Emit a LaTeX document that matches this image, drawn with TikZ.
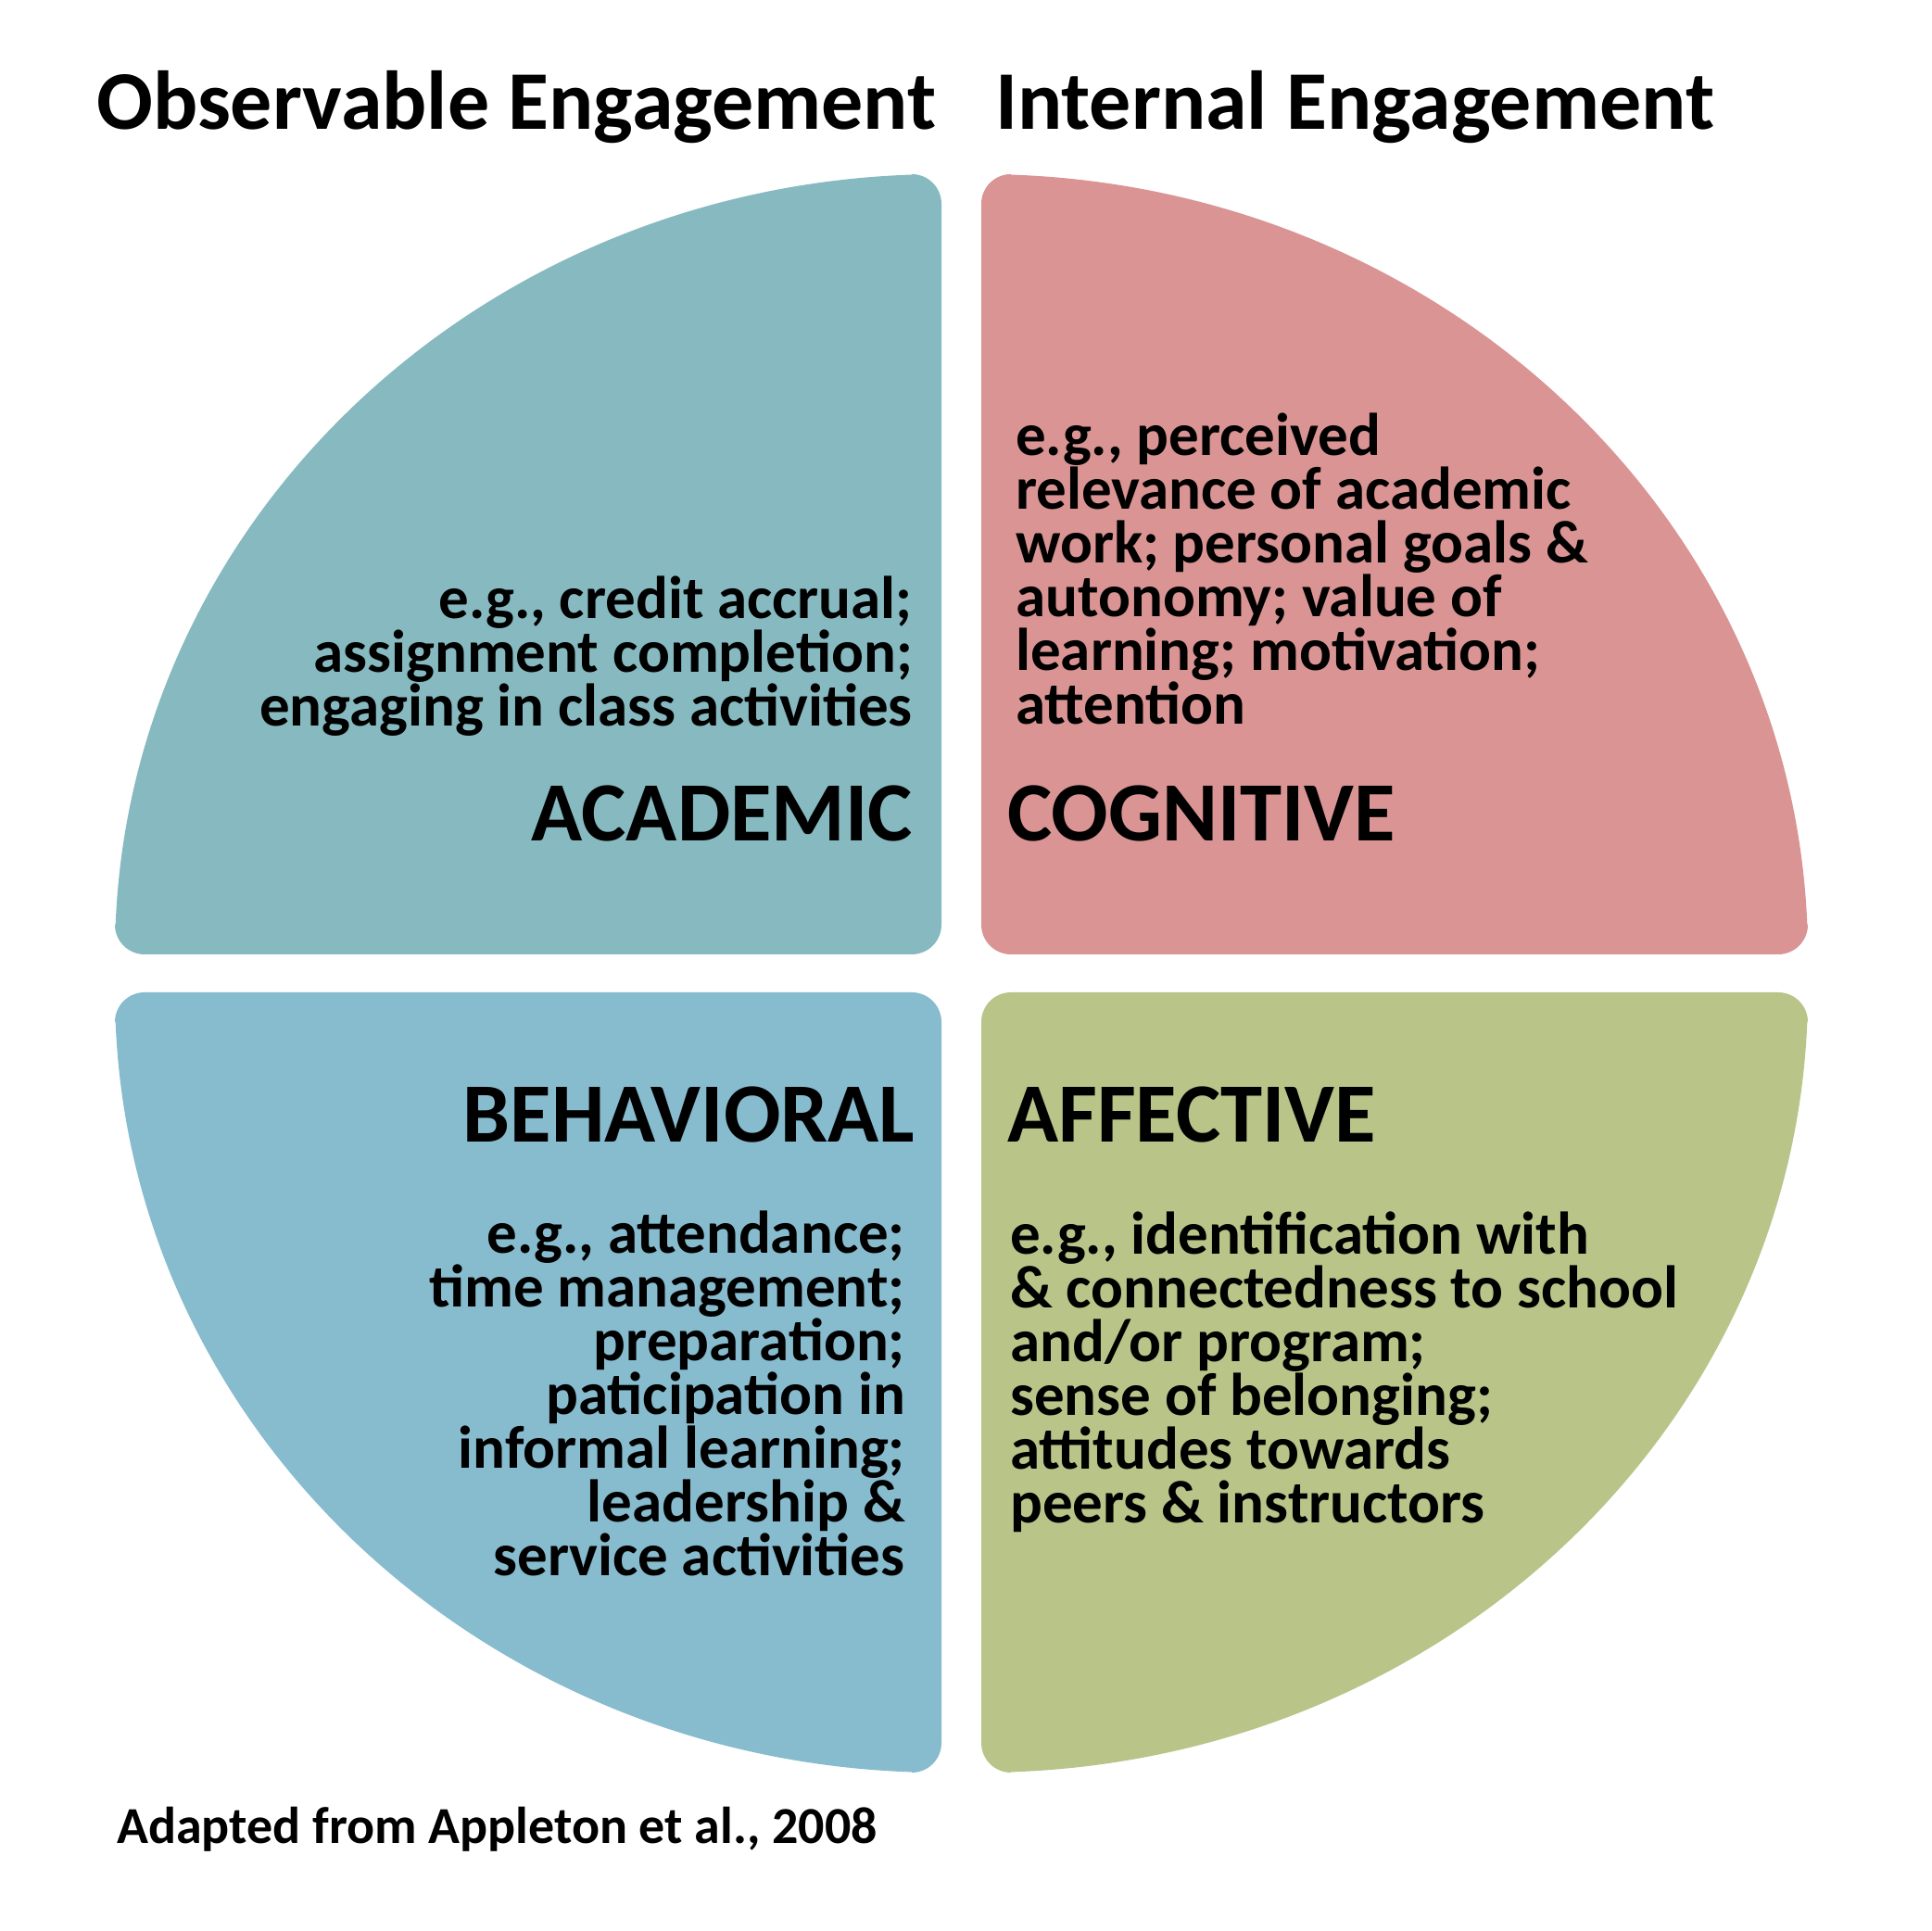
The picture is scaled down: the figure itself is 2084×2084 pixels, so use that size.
\documentclass[tikz,border=0pt]{standalone}
\usepackage{fontspec}
\setmainfont{Carlito}
\definecolor{cteal}{HTML}{86BAC0}
\definecolor{cpink}{HTML}{D99493}
\definecolor{cblue}{HTML}{87BBCE}
\definecolor{cgreen}{HTML}{B9C489}
\tikzset{
  quarter/.pic={
    \path[pic actions] (-32,0) arc[start angle=270,end angle=360,radius=32]
      -- (0,810) arc[start angle=0,end angle=90,radius=32]
      -- (92.06:892 and 842)
      arc[start angle=92.06,end angle=177.82,x radius=892,y radius=842]
      -- (-892,32) arc[start angle=180,end angle=270,radius=32] -- cycle;
  },
  titletext/.style={font=\fontsize{90}{100}\selectfont\bfseries, inner sep=0, anchor=base west},
  headtext/.style={font=\fontsize{91}{100}\selectfont\bfseries, inner sep=0},
  bodytext/.style={font=\fontsize{65}{58}\selectfont\bfseries, inner sep=0},
  foottext/.style={font=\fontsize{56}{60}\selectfont\bfseries, inner sep=0, anchor=base west},
}
\begin{document}
\begin{tikzpicture}[x=1pt,y=1pt]
\useasboundingbox (0,0) rectangle (2084,2084);
\fill[white] (0,0) rectangle (2084,2084);
\pic[fill=cteal] at (1016,1054) {quarter};
\pic[fill=cpink, xscale=-1] at (1059,1054) {quarter};
\pic[fill=cblue, yscale=-1] at (1016,1013) {quarter};
\pic[fill=cgreen, xscale=-1, yscale=-1] at (1059,1013) {quarter};

\node[titletext] (t1) at (104,1944.5) {Observable Engagement};
\node[titletext] (t2) at (1074,1944.5) {Internal Engagement};

\node[headtext, anchor=base east] (hac) at (985,1176) {ACADEMIC};
\node[headtext, anchor=base west] (hco) at (1087,1176) {COGNITIVE};
\node[headtext, anchor=base east] (hbe) at (987.5,851) {BEHAVIORAL};
\node[headtext, anchor=base west] (haf) at (1087,851) {AFFECTIVE};

\node[bodytext, anchor=base east, align=right] (bac) at (985,1300)
  {e.g., credit accrual;\\ assignment completion;\\ engaging in class activities};
\node[bodytext, anchor=base west, align=left] (bco) at (1096,1302)
  {e.g., perceived\\ relevance of academic\\ work; personal goals \&\\ autonomy; value of\\ learning; motivation;\\ attention};
\node[bodytext, anchor=base east, align=right] (bbe) at (977,383)
  {e.g., attendance;\\ time management;\\ preparation;\\ paticipation in\\ informal learning;\\ leadership \&\\ service activities};
\node[bodytext, anchor=base west, align=left] (baf) at (1090,440)
  {e.g., identification with\\ \& connectedness to school\\ and/or program;\\ sense of belonging;\\ attitudes towards\\ peers \& instructors};

\node[foottext] (foot) at (126,94) {Adapted from Appleton et al., 2008};
\end{tikzpicture}
\end{document}
